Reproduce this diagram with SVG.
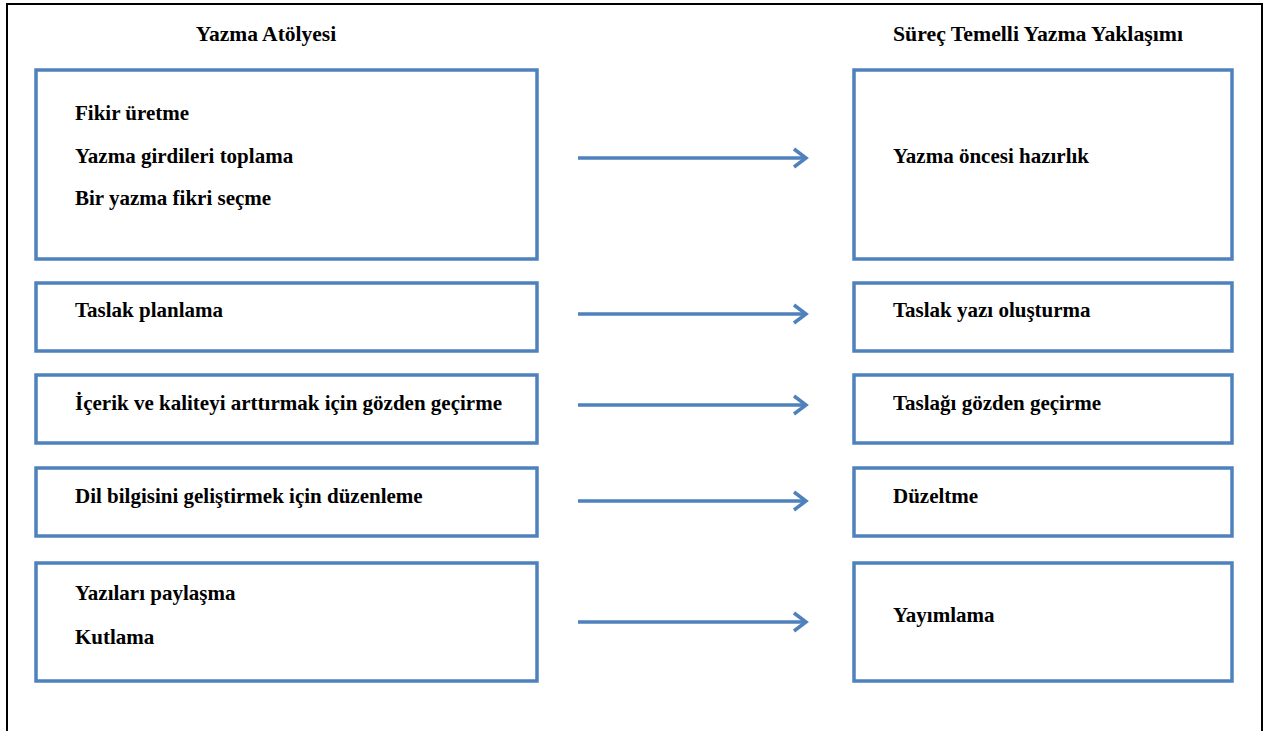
<svg xmlns="http://www.w3.org/2000/svg" width="1267" height="731" viewBox="0 0 1267 731">
<style>
.box{fill:#fff;stroke:#4F81BD;stroke-width:3.5}
.t{font-family:"Liberation Serif","Times New Roman",serif;font-weight:bold;font-size:21px;fill:#000}
.h{font-family:"Liberation Serif","Times New Roman",serif;font-weight:bold;font-size:21.5px;fill:#000;text-anchor:middle}
.c{stroke:#4F81BD;stroke-width:3.5;fill:none}
</style>
<rect width="1267" height="731" fill="#fff"/>
<path d="M7,731 V4 H1262 V731" fill="none" stroke="#000" stroke-width="2"/>
<text class="h" x="266" y="41">Yazma Atölyesi</text>
<text class="h" x="1038" y="41" textLength="290" lengthAdjust="spacingAndGlyphs">Süreç Temelli Yazma Yaklaşımı</text>
<g id="l1"><rect class="box" x="36" y="70" width="501" height="189"/>
<text class="t" x="75" y="120">Fikir üretme</text>
<text class="t" x="75" y="163">Yazma girdileri toplama</text>
<text class="t" x="75" y="205">Bir yazma fikri seçme</text></g>
<g id="l2"><rect class="box" x="36" y="283" width="501" height="68"/>
<text class="t" x="75" y="317">Taslak planlama</text></g>
<g id="l3"><rect class="box" x="36" y="375" width="501" height="68"/>
<text class="t" x="75" y="410" textLength="427" lengthAdjust="spacingAndGlyphs">İçerik ve kaliteyi arttırmak için gözden geçirme</text></g>
<g id="l4"><rect class="box" x="36" y="468" width="501" height="68"/>
<text class="t" x="75" y="503">Dil bilgisini geliştirmek için düzenleme</text></g>
<g id="l5"><rect class="box" x="36" y="563" width="501" height="118"/>
<text class="t" x="75" y="600">Yazıları paylaşma</text>
<text class="t" x="75" y="644">Kutlama</text></g>
<g id="r1"><rect class="box" x="854" y="70" width="378" height="189"/>
<text class="t" x="893" y="163">Yazma öncesi hazırlık</text></g>
<g id="r2"><rect class="box" x="854" y="283" width="378" height="68"/>
<text class="t" x="893" y="317">Taslak yazı oluşturma</text></g>
<g id="r3"><rect class="box" x="854" y="375" width="378" height="68"/>
<text class="t" x="893" y="410">Taslağı gözden geçirme</text></g>
<g id="r4"><rect class="box" x="854" y="468" width="378" height="68"/>
<text class="t" x="893" y="503">Düzeltme</text></g>
<g id="r5"><rect class="box" x="854" y="563" width="378" height="118"/>
<text class="t" x="893" y="622">Yayımlama</text></g>
<g id="connectors">
<path class="c" d="M578,158 H806"/><path class="c" d="M794,149 L806,158 L794,167"/>
<path class="c" d="M578,314 H806"/><path class="c" d="M794,305 L806,314 L794,323"/>
<path class="c" d="M578,405 H806"/><path class="c" d="M794,396 L806,405 L794,414"/>
<path class="c" d="M578,501 H806"/><path class="c" d="M794,492 L806,501 L794,510"/>
<path class="c" d="M578,622 H806"/><path class="c" d="M794,613 L806,622 L794,631"/>
</g>
</svg>
